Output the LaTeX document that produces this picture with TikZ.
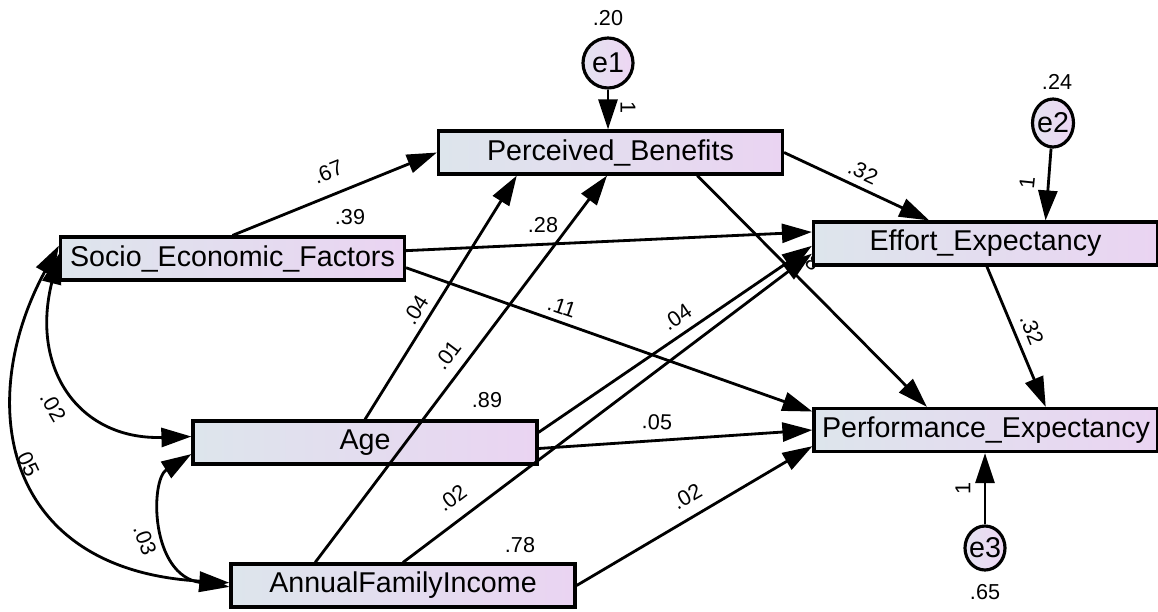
\documentclass[tikz,border=0pt]{standalone}
\usepackage{fontspec}
\setmainfont{Liberation Sans}
\usepackage{tikz}
\usetikzlibrary{arrows.meta, calc, shapes.geometric}
\definecolor{boxleft}{RGB}{221,229,236}
\definecolor{boxright}{RGB}{234,212,242}
\definecolor{errleft}{RGB}{228,226,240}
\definecolor{errright}{RGB}{237,214,243}

\begin{document}
\begin{tikzpicture}[x=0.2mm, y=-0.2mm,
  var/.style={draw, line width=1.8pt, left color=boxleft, right color=boxright,
    minimum width=68.8mm, minimum height=8.6mm, inner sep=0pt,
    font=\fontsize{16.3}{18}\selectfont},
  err/.style={draw, ellipse, line width=1.8pt, left color=errleft, right color=errright,
    inner sep=0pt, font=\fontsize{16.3}{18}\selectfont},
  num/.style={inner sep=0pt, font=\fontsize{12.3}{14}\selectfont},
  reg/.style={line width=1.6pt, -{Triangle[length=6mm, width=3.8mm]}},
  cov/.style={line width=1.6pt, {Triangle[length=6mm, width=3.8mm]}-{Triangle[length=6mm, width=3.8mm]}}]
  \useasboundingbox (0,0) rectangle (1158,611);
  % label partly hidden behind the box
  \node[num, rotate=-40] (hid) at (813,263) {8};
  % Observed variables
  \node[var] (pb) at (610.5,152.5) {Perceived\_Benefits};
  \node[var] (sef) at (232.5,258.5) {Socio\_Economic\_Factors};
  \node[var] (ee) at (985.5,243.5) {Effort\_Expectancy};
  \node[var] (pe) at (986,430) {Performance\_Expectancy};
  \node[var] (age) at (365,442.5) {Age};
  \node[var] (afi) at (403,585.5) {AnnualFamilyIncome};
  % Errors
  \node[err, minimum width=10mm, minimum height=10mm] (e1) at (608,63) {\makebox[0pt]{e1}};
  \node[err, minimum width=8.2mm, minimum height=9.6mm] (e2) at (1053,123) {\makebox[0pt]{e2}};
  \node[err, minimum width=8mm, minimum height=8.8mm] (e3) at (985,548) {\makebox[0pt]{e3}};
  % Paths
  \draw[reg] (e1) -- (e1 |- pb.north);
  \draw[reg] (e2) -- ($(ee.north west)!0.673!(ee.north east)$);
  \draw[reg] (e3) -- (e3 |- pe.south);
  \draw[reg] (sef.north) -- (pb.west);
  \draw[reg] (pb.east) -- ($(ee.north west)!0.338!(ee.north east)$);
  \draw[reg] ($(pb.south west)!0.75!(pb.south east)$) -- ($(pe.north west)!0.33!(pe.north east)$);
  \draw[reg] ($(ee.south west)!0.504!(ee.south east)$) -- ($(pe.north west)!0.672!(pe.north east)$);
  \draw[reg] ($(sef.north east)!0.33!(sef.south east)$) -- ($(ee.north west)!0.25!(ee.south west)$);
  \draw[reg] ($(sef.north east)!0.7!(sef.south east)$) -- ($(pe.north west)!0.1!(pe.south west)$);
  \draw[reg] (age.north) -- ($(pb.south west)!0.23!(pb.south east)$);
  \draw[reg] ($(afi.north west)!0.247!(afi.north east)$) -- ($(pb.south west)!0.49!(pb.south east)$);
  \draw[reg] ($(age.north east)!0.28!(age.south east)$) -- ($(ee.north west)!0.55!(ee.south west)$);
  \draw[reg] (afi.north) -- ($(ee.north west)!0.72!(ee.south west)$);
  \draw[reg] ($(age.north east)!0.63!(age.south east)$) -- ($(pe.north west)!0.5!(pe.south west)$);
  \draw[reg] (afi.east) -- ($(pe.north west)!0.85!(pe.south west)$);
  % Covariances
  \draw[cov] ($(sef.north west)!0.4!(sef.south west)$) .. controls (30,370) and (80,440) .. ($(age.north west)!0.37!(age.south west)$);
  \draw[cov] ($(sef.north west)!0.22!(sef.south west)$) .. controls (-25,400) and (0,570) .. ($(afi.north west)!0.44!(afi.south west)$);
  \draw[cov] ($(age.north west)!0.75!(age.south west)$) .. controls (150,480) and (150,575) .. ($(afi.north west)!0.53!(afi.south west)$);
  % Estimates
  \node[num] (v20) at (608,18) {.20};
  \node[num] (v24) at (1057,82) {.24};
  \node[num] (v65) at (985,592) {.65};
  \node[num] (v39) at (350,217) {.39};
  \node[num] (v89) at (487,400) {.89};
  \node[num] (v78) at (520,545) {.78};
  \node[num, rotate=-90] (w1) at (628,108) {1};
  \node[num, rotate=84] (w2) at (1027,183) {1};
  \node[num, rotate=90] (w3) at (963,488) {1};
  \node[num, rotate=22] (b67) at (328,172) {.67};
  \node[num, rotate=-25] (b32a) at (863,172) {.32};
  \node[num, rotate=-68] (b32b) at (1032,330) {.32};
  \node[num] (b28) at (543,225) {.28};
  \node[num, rotate=-19] (b11) at (562,307) {.11};
  \node[num, rotate=58] (b04a) at (416,310) {.04};
  \node[num, rotate=53] (b01) at (448,355) {.01};
  \node[num, rotate=34] (b04b) at (677,317) {.04};
  \node[num, rotate=37] (b02a) at (452,498) {.02};
  \node[num, rotate=-2] (b05) at (657,422) {.05};
  \node[num, rotate=30] (b02b) at (687,497) {.02};
  \node[num, rotate=-60] (c02) at (53,407) {.02};
  \node[num, rotate=-65] (c05) at (27,462) {.05};
  \node[num, rotate=-70] (c03) at (145,540) {.03};
\end{tikzpicture}
\end{document}
